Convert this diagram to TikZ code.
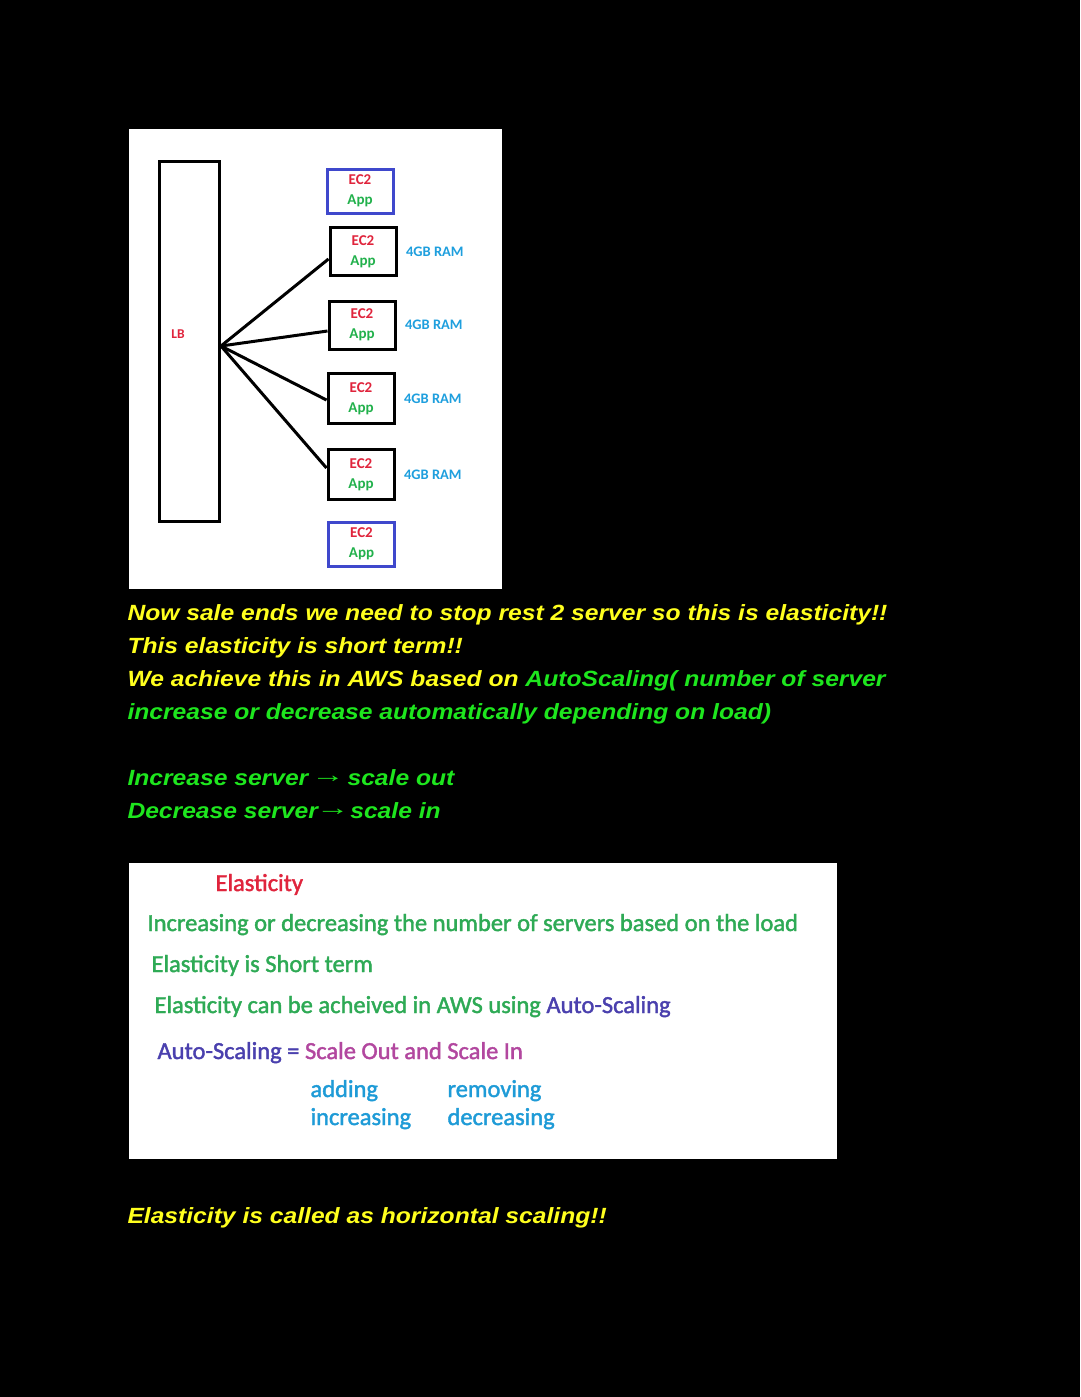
\documentclass[tikz,border=0pt]{standalone}
\usepackage{fontspec}
\setmainfont{Liberation Sans}
\newfontfamily\notefont[FakeStretch=1.12]{Liberation Sans}
\newfontfamily\slidefont[FakeBold=1.6]{Carlito}
\newfontfamily\boxfont{Carlito}
\usetikzlibrary{positioning}
\definecolor{ec2red}{HTML}{E0243C}
\definecolor{appgreen}{HTML}{22B14C}
\definecolor{ramblue}{HTML}{1E9FDE}
\definecolor{sparebl}{HTML}{3F48CC}
\definecolor{noteyellow}{HTML}{FFFF1E}
\definecolor{notegreen}{HTML}{1EE61E}
\definecolor{slidegreen}{HTML}{2EAA55}
\definecolor{slidepurple}{HTML}{4A40AE}
\definecolor{slidemagenta}{HTML}{B2479F}
\definecolor{slideblue}{HTML}{1E9BD7}
\tikzset{
  every picture/.style={line width=3pt},
  ec2/.style={draw=black, minimum width=66pt, minimum height=48pt, inner sep=0pt, align=center,
    font=\boxfont\bfseries\fontsize{15}{20}\selectfont},
  spare/.style={ec2, draw=sparebl, minimum height=44pt},
  ram/.style={text=ramblue, inner sep=0pt, font=\boxfont\bfseries\fontsize{14.5}{18}\selectfont},
  note/.style={anchor=base west, inner sep=0pt, text=noteyellow,
    font=\notefont\bfseries\itshape\fontsize{22}{33}\selectfont},
  slide/.style={anchor=base west, inner sep=0pt, text=slidegreen,
    font=\slidefont\fontsize{24.5}{30}\selectfont}
}
\newcommand{\EC}{\textcolor{ec2red}{EC2}\\\textcolor{appgreen}{App}}
\newcommand{\toarrow}{\makebox[1.16em][c]{\raisebox{2.5pt}{\scalebox{1.35}[1]{→}}}}

\begin{document}
\begin{tikzpicture}[x=1pt, y=-1pt, node distance=7pt]
    \fill[black] (0,0) rectangle (1080,1397);
    \useasboundingbox (0,0) rectangle (1080,1397);

    % load balancer and servers
    \fill[white] (129,129) rectangle (502,589);
    \node [draw, minimum width=60pt, minimum height=360pt] (lbbox) at (189.5,341.5) {};
    \node [inner sep=0pt, text=ec2red, font=\boxfont\bfseries\fontsize{13.5}{16}\selectfont] (lb) at (178,334) {LB};
    \coordinate (hub) at (221,346);

    \node [spare] (ec2a) at (360,191) {\EC};
    \node [ec2] (ec2b) at (363,251.5) {\EC};
    \node [ec2] (ec2c) at (362,325) {\EC};
    \node [ec2, minimum height=50pt] (ec2d) at (361,398.5) {\EC};
    \node [ec2, minimum height=50pt] (ec2e) at (361,474.5) {\EC};
    \node [spare] (ec2f) at (361.5,544) {\EC};

    \node [ram, right=of ec2b] (ramb) {4GB RAM};
    \node [ram, right=of ec2c] (ramc) {4GB RAM};
    \node [ram, right=of ec2d] (ramd) {4GB RAM};
    \node [ram, right=of ec2e] (rame) {4GB RAM};

    \draw (hub) -- ([yshift=-7.5pt]ec2b.west);
    \draw (hub) -- ([yshift=-6pt]ec2c.west);
    \draw (hub) -- ([yshift=-1.5pt]ec2d.west);
    \draw (hub) -- ([yshift=6.5pt]ec2e.west);

    % notes
    \node [note] (n1) at (126,620) {Now sale ends we need to stop rest 2 server so this is elasticity!!};
    \node [note] (n2) at (126,653) {This elasticity is short term!!};
    \node [note] (n3) at (126,686) {We achieve this in AWS based on \textcolor{notegreen}{AutoScaling( number of server}};
    \node [note, text=notegreen] (n4) at (126,719) {increase or decrease automatically depending on load)};
    \node [note, text=notegreen] (n5) at (126,785) {Increase server \toarrow\ scale out};
    \node [note, text=notegreen] (n6) at (126,818) {Decrease server\kern2pt\toarrow\kern-2pt\ scale in};

    % summary slide
    \fill[white] (129,863) rectangle (837,1159);
    \node [slide, text=ec2red] (s1) at (214,891) {Elasticity};
    \node [slide] (s2) at (146,931) {Increasing or decreasing the number of servers based on the load};
    \node [slide] (s3) at (150,972) {Elasticity is Short term};
    \node [slide] (s4) at (153,1013) {Elasticity can be acheived in AWS using \textcolor{slidepurple}{Auto-Scaling}};
    \node [slide, text=slidepurple] (s5) at (156,1059) {Auto-Scaling = \textcolor{slidemagenta}{Scale Out and Scale In}};
    \node [slide, text=slideblue] (s6) at (309,1097) {adding};
    \node [slide, text=slideblue] (s7) at (309,1125) {increasing};
    \node [slide, text=slideblue] (s8) at (446,1097) {removing};
    \node [slide, text=slideblue] (s9) at (446,1125) {decreasing};

    \node [note] (n7) at (126,1223) {Elasticity is called as horizontal scaling!!};
  \end{tikzpicture}
\end{document}
